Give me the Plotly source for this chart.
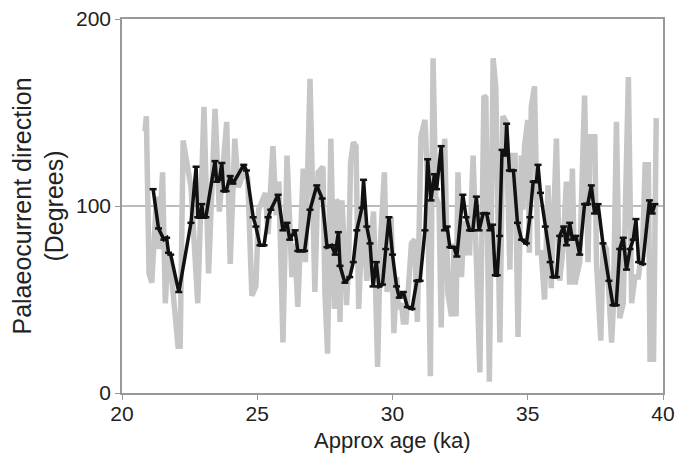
import plotly.graph_objects as go

# raw palaeocurrent readings (grey)
raw_age = [20.85, 20.9, 21.0, 21.1, 21.28, 21.35, 21.5, 21.6, 21.7, 21.85, 22.07, 22.15,
           22.26, 22.45, 22.55, 22.8, 23.03, 23.2, 23.44, 23.6, 23.87, 24.0, 24.17, 24.3,
           24.5, 24.65, 24.8, 24.95, 25.05, 25.3, 25.4, 25.58, 25.7, 25.8, 25.95, 26.1,
           26.2, 26.28, 26.38, 26.5, 26.7, 26.78, 26.95, 27.13, 27.25, 27.43, 27.5, 27.6,
           27.72, 27.85, 27.92, 28.0, 28.06, 28.13, 28.25, 28.3, 28.38, 28.45, 28.55, 28.65,
           28.75, 28.9, 29.05, 29.3, 29.45, 29.55, 29.7, 29.8, 29.95, 30.05, 30.15, 30.22,
           30.33, 30.4, 30.5, 30.58, 30.7, 30.82, 30.92, 31.05, 31.2, 31.28, 31.4, 31.5,
           31.6, 31.72, 31.8, 31.93, 32.05, 32.18, 32.28, 32.35, 32.42, 32.55, 32.65, 32.78,
           32.85, 32.98, 33.1, 33.23, 33.38, 33.45, 33.58, 33.72, 33.82, 33.97, 34.08, 34.2,
           34.34, 34.4, 34.53, 34.64, 34.76, 34.82, 34.88, 35.0, 35.06, 35.13, 35.25, 35.37,
           35.5, 35.62, 35.75, 35.87, 36.06, 36.18, 36.3, 36.43, 36.55, 36.65, 36.74, 36.92,
           37.1, 37.23, 37.3, 37.48, 37.54, 37.7, 37.79, 37.91, 38.1, 38.16, 38.28, 38.4,
           38.53, 38.72, 38.84, 38.96, 39.09, 39.25, 39.34, 39.46, 39.52, 39.65, 39.75]
raw_dir = [140, 148, 64, 59, 105, 77, 118, 48, 73, 60, 25, 25,
           135, 120, 110, 48, 153, 64, 152, 97, 145, 69, 136, 110,
           118, 115, 52, 57, 98, 107, 85, 132, 95, 113, 27, 127,
           90, 62, 80, 46, 120, 70, 168, 54, 118, 121, 54, 21,
           136, 45, 103, 102, 38, 103, 70, 47, 70, 123, 134, 132,
           45, 100, 60, 97, 14, 80, 118, 54, 94, 32, 62, 45,
           48, 38, 38, 59, 80, 82, 38, 137, 146, 120, 9, 179,
           105, 100, 35, 136, 53, 41, 80, 41, 118, 62, 92, 75,
           75, 127, 66, 11, 159, 158, 6, 179, 163, 27, 148, 145,
           66, 127, 127, 30, 127, 98, 132, 146, 75, 153, 164, 75,
           75, 50, 111, 56, 136, 60, 77, 113, 58, 120, 58, 70,
           159, 70, 137, 137, 70, 28, 80, 77, 27, 45, 145, 40,
           48, 169, 48, 62, 62, 80, 122, 122, 18, 18, 147]

# running mean (black)
avg_age = [21.15, 21.35, 21.55, 21.65, 21.72, 21.8, 22.1, 22.55, 22.74, 22.8, 22.88, 22.95,
           23.0, 23.1, 23.44, 23.5, 23.6, 23.69, 23.76, 23.85, 24.0, 24.1, 24.5, 24.6,
           24.85, 24.95, 25.1, 25.25, 25.4, 25.5, 25.77, 25.95, 26.1, 26.2, 26.4, 26.5,
           26.6, 26.75, 26.95, 27.2, 27.4, 27.58, 27.75, 27.88, 28.0, 28.06, 28.24, 28.42,
           28.55, 28.68, 28.87, 28.93, 29.05, 29.17, 29.28, 29.4, 29.5, 29.63, 29.75, 29.87,
           30.0, 30.15, 30.25, 30.4, 30.55, 30.72, 30.9, 31.02, 31.2, 31.3, 31.42, 31.55,
           31.63, 31.8, 31.92, 32.02, 32.12, 32.27, 32.38, 32.6, 32.72, 32.85, 32.97, 33.1,
           33.2, 33.35, 33.48, 33.6, 33.7, 33.8, 33.87, 33.96, 34.05, 34.17, 34.22, 34.32,
           34.47, 34.62, 34.77, 34.95, 35.08, 35.2, 35.32, 35.38, 35.47, 35.65, 35.83, 35.93,
           36.06, 36.18, 36.33, 36.43, 36.55, 36.65, 36.78, 36.92, 37.1, 37.22, 37.35, 37.47,
           37.6, 37.78, 38.0, 38.15, 38.27, 38.4, 38.53, 38.65, 38.78, 38.9, 39.0, 39.1,
           39.25, 39.5, 39.6, 39.7]
avg_dir = [109, 88, 82, 83, 75, 74, 54, 91, 121, 94, 94, 101,
           94, 94, 124, 113, 114, 123, 108, 108, 116, 112, 122, 119,
           94, 89, 79, 79, 94, 98, 106, 87, 91, 82, 87, 76,
           76, 76, 98, 111, 104, 78, 79, 74, 86, 68, 59, 62,
           70, 87, 99, 114, 89, 80, 57, 70, 57, 58, 77, 94,
           74, 57, 51, 54, 46, 45, 60, 60, 87, 125, 103, 117,
           109, 132, 87, 89, 78, 78, 73, 106, 94, 87, 87, 105,
           87, 96, 96, 87, 90, 63, 63, 84, 130, 127, 144, 119,
           119, 91, 82, 80, 94, 113, 113, 122, 107, 89, 70, 62,
           62, 84, 89, 79, 91, 82, 84, 74, 101, 101, 111, 96,
           101, 80, 60, 47, 47, 77, 83, 66, 77, 82, 93, 70,
           69, 103, 96, 101]

fig = go.Figure()
fig.add_trace(go.Scatter(x=raw_age, y=raw_dir, mode='lines',
                         line=dict(color='#c6c6c6', width=5.5), showlegend=False))
fig.add_trace(go.Scatter(x=avg_age, y=avg_dir, mode='lines+markers',
                         line=dict(color='#111111', width=3.5),
                         marker=dict(symbol='line-ew', size=5,
                                     line=dict(color='#111111', width=2.5)),
                         showlegend=False))

fam = 'Liberation Sans, Arial, sans-serif'
fig.update_layout(
    width=691, height=459,
    margin=dict(l=122, r=28, t=19, b=66),
    plot_bgcolor='white', paper_bgcolor='white',
    font=dict(family=fam, size=21, color='#222'),
    xaxis=dict(range=[20, 40], tickvals=[20, 25, 30, 35, 40], automargin=False,
               showgrid=False, zeroline=False,
               showline=True, linecolor='#999', linewidth=1.5, mirror=True,
               ticks='outside', ticklen=5, tickcolor='#999', ticklabelstandoff=-4),
    yaxis=dict(range=[0, 200], tickvals=[0, 100, 200], automargin=False,
               showgrid=True, gridcolor='#bbbbbb', gridwidth=1.5, zeroline=False,
               showline=True, linecolor='#999', linewidth=1.5, mirror=True,
               ticks='outside', ticklen=5, tickcolor='#999',
               title=dict(text='Palaeocurrent direction<br>(Degrees)', standoff=5)),
)
fig.add_annotation(text='Approx age (ka)', xref='paper', yref='paper',
                   x=0.5, y=0, yanchor='middle', yshift=-47, showarrow=False,
                   font=dict(family=fam, size=22, color='#222'))

# drop the default 8px body margin so the figure fills the window exactly
fig.write_html("out.html", config={'displayModeBar': False},
               post_script="document.body.style.margin='0';")
